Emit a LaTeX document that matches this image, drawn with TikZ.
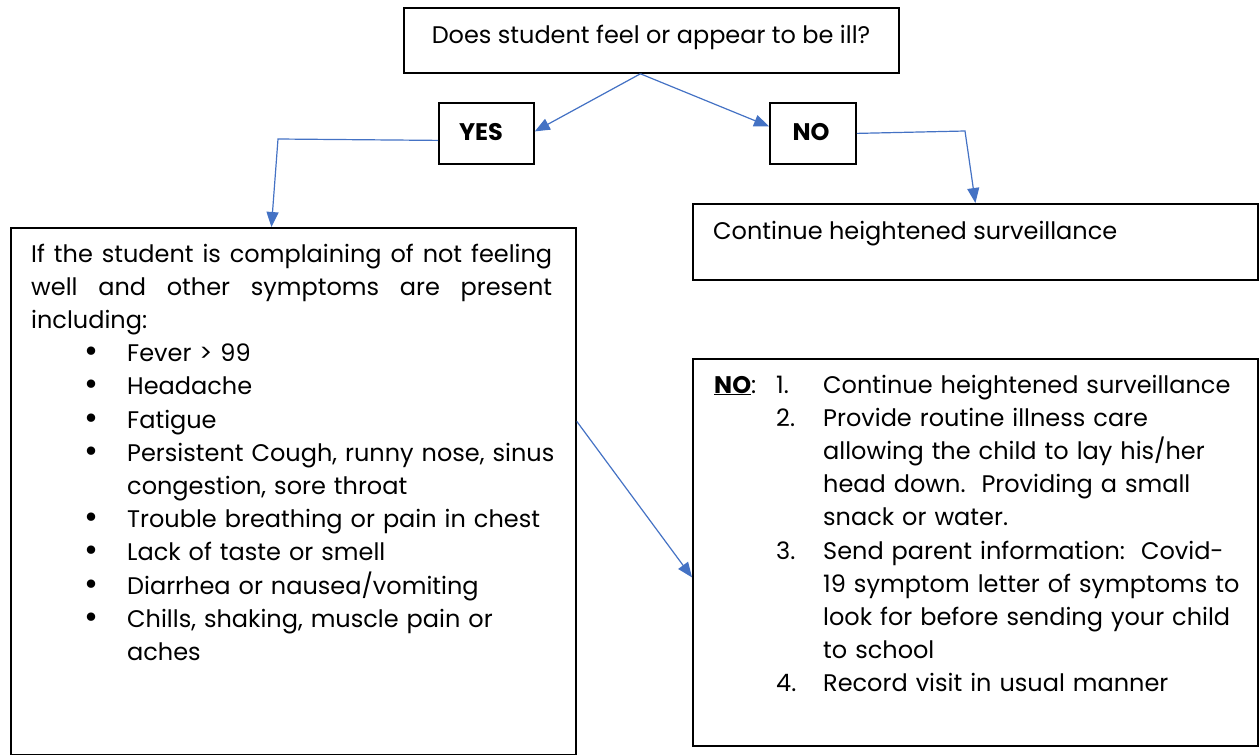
\documentclass[tikz,border=0pt]{standalone}
\usepackage{fontspec}
\setmainfont{Poppins}
\usepackage{xcolor}
\usepackage{tikz}
\usetikzlibrary{positioning,calc,arrows.meta}
\definecolor{linkblue}{HTML}{4472C4}
\newcommand{\bul}{\makebox[96pt][l]{\hspace{53pt}\raisebox{-1pt}{\fontsize{34}{0}\selectfont\textbullet}}}
\newcommand{\ind}{\hspace*{96pt}}
\newcommand{\jline}[1]{{\spaceskip=.28em plus 1fil\makebox[521pt][s]{#1}}}
\newcommand{\nol}[1]{\makebox[62pt][l]{#1}}
\newcommand{\num}[1]{\makebox[47pt][l]{#1}}
\newcommand{\numind}{\hspace*{62pt}}
\newcommand{\txtind}{\hspace*{109pt}}

\begin{document}
\begin{tikzpicture}[x=1pt,y=-1pt,
    box/.style={draw, line width=1.8pt, inner sep=0pt, anchor=north west},
    txt/.style={inner sep=0pt, font=\fontsize{24}{33.2}\selectfont},
    link/.style={draw=linkblue, line width=1.2pt, -{Triangle[length=15pt,width=12pt]}}]
    \useasboundingbox (0,0) rectangle (1259,755);
    \node[box, minimum width=495pt, minimum height=65pt] (ill) at (403,7) {};
    \node[box, minimum width=95pt, minimum height=61pt] (yes) at (438,102) {};
    \node[box, minimum width=86pt, minimum height=61pt] (no) at (769,102) {};
    \node[box, minimum width=565pt, minimum height=76pt] (cont) at (692,203) {};
    \node[box, minimum width=565pt, minimum height=527pt] (sympt) at (10,227) {};
    \node[box, minimum width=565pt, minimum height=387pt] (noact) at (692,358) {};
    \node[txt, anchor=base] (illtxt) at (651,43) {Does student feel or appear to be ill?};
    \node[txt, anchor=base, font=\fontsize{24}{33.2}\selectfont\bfseries] (yestxt) at (481,140) {YES};
    \node[txt, anchor=base, font=\fontsize{24}{33.2}\selectfont\bfseries] (notxt) at (811,140) {NO};
    \node[txt, anchor=base west] (conttxt) at (713,239) {Continue heightened surveillance};
    \node[txt, anchor=base west, text width=560pt, align=left] (symptxt) at (31,262) {%
        \jline{If the student is complaining of not feeling}\\
        \jline{well and other symptoms are present}\\
        including:\\
        \bul Fever > 99\\
        \bul Headache\\
        \bul Fatigue\\
        \bul Persistent Cough, runny nose, sinus\\
        \ind congestion, sore throat\\
        \bul Trouble breathing or pain in chest\\
        \bul Lack of taste or smell\\
        \bul Diarrhea or nausea/vomiting\\
        \bul Chills, shaking, muscle pain or\\
        \ind aches};
    \node[txt, anchor=base west, text width=545pt, align=left] (noacttxt) at (714,393) {%
        \nol{\underline{\textbf{NO}}:}\num{1.}Continue heightened surveillance\\
        \numind\num{2.}Provide routine illness care\\
        \txtind allowing the child to lay his/her\\
        \txtind head down.\ \ Providing a small\\
        \txtind snack or water.\\
        \numind\num{3.}Send parent information:\ \ Covid-\\
        \txtind 19 symptom letter of symptoms to\\
        \txtind look for before sending your child\\
        \txtind to school\\
        \numind\num{4.}Record visit in usual manner};
    \coordinate (yesbend) at (278,139);
    \coordinate (nobend) at (965,131);
    \draw[link] ([xshift=-11pt]ill.south) -- ([yshift=2pt]yes.east);
    \draw[link] ([xshift=-11pt]ill.south) -- ([yshift=7pt]no.west);
    \draw[link] ([yshift=-7pt]yes.west) -- (yesbend) -- ([xshift=-22pt]sympt.north);
    \draw[link] (no.east) -- (nobend) -- (cont.north);
    \draw[link] ([yshift=70pt]sympt.east) -- ([yshift=-25pt]noact.west);
\end{tikzpicture}
\end{document}
